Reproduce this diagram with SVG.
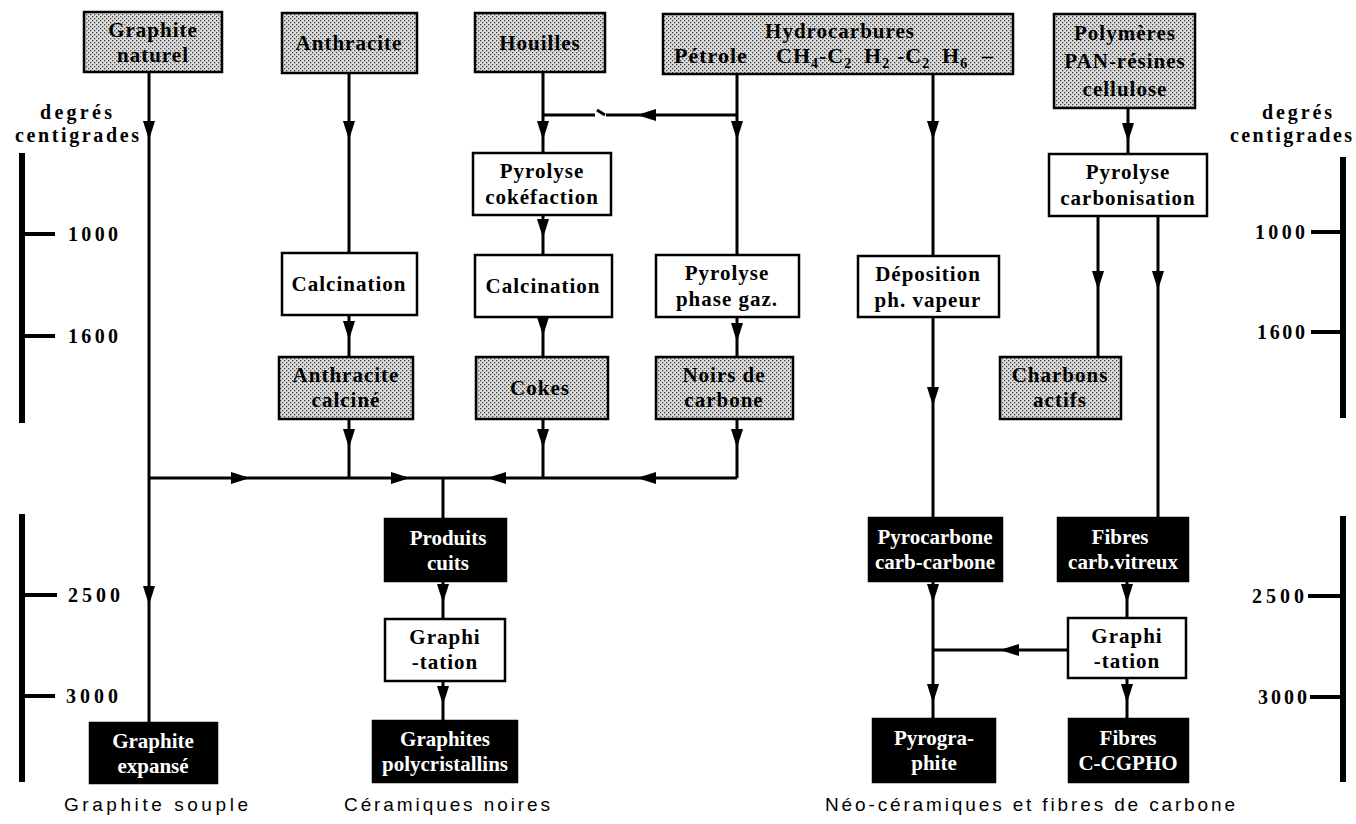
<svg xmlns="http://www.w3.org/2000/svg" xmlns:xlink="http://www.w3.org/1999/xlink" width="1356" height="824" viewBox="0 0 1356 824">
<style>
.box{stroke:#000;stroke-width:2.5}
.sh{fill:url(#dots)}
.wh{fill:#fff}
.bk{fill:#000}
.t{font-family:"Liberation Serif",serif;font-weight:bold;font-size:21px;text-anchor:middle;letter-spacing:1px;fill:#000}
.tb{font-family:"Liberation Serif",serif;font-weight:bold;font-size:21px;text-anchor:middle;fill:#fff}
.lab{font-family:"Liberation Serif",serif;font-weight:bold;font-size:20px;fill:#000}
.cap{font-family:"Liberation Sans",sans-serif;font-size:19px;fill:#000}
.c{fill:none;stroke:#000;stroke-width:3}
.bar{fill:#000}
.sub{font-size:14px}
</style>
<defs>
<pattern id="dots" width="4" height="4" patternUnits="userSpaceOnUse">
<rect width="4" height="4" fill="#dcdcdc"/>
<rect x="0" y="0" width="1.3" height="1.3" fill="#444"/>
<rect x="2" y="2" width="1.3" height="1.3" fill="#444"/>
</pattern>
<path id="ad" d="M0,0 L-6,-19 L6,-19 Z" fill="#000"/>
<path id="al" d="M0,0 L19,-6 L19,6 Z" fill="#000"/>
<path id="ar" d="M0,0 L-19,-6 L-19,6 Z" fill="#000"/>
</defs>
<rect width="1356" height="824" fill="#fff"/>

<g id="scales">
<rect class="bar" x="19" y="153" width="6" height="270"/>
<rect class="bar" x="22" y="232" width="33" height="4"/>
<rect class="bar" x="22" y="334" width="33" height="4"/>
<rect class="bar" x="19" y="514" width="6" height="268"/>
<rect class="bar" x="22" y="593" width="35" height="4"/>
<rect class="bar" x="22" y="694" width="33" height="4"/>
<rect class="bar" x="1340" y="157" width="6" height="261"/>
<rect class="bar" x="1311" y="230" width="32" height="4"/>
<rect class="bar" x="1311" y="330" width="32" height="4"/>
<rect class="bar" x="1340" y="516" width="6" height="266"/>
<rect class="bar" x="1308" y="594" width="35" height="4"/>
<rect class="bar" x="1310" y="695" width="33" height="4"/>
<text class="lab" x="68" y="241" textLength="50">1000</text>
<text class="lab" x="68" y="343" textLength="50">1600</text>
<text class="lab" x="68" y="602" textLength="52">2500</text>
<text class="lab" x="66" y="703" textLength="52">3000</text>
<text class="lab" x="1255" y="239" textLength="50">1000</text>
<text class="lab" x="1257" y="339" textLength="48">1600</text>
<text class="lab" x="1252" y="603" textLength="52">2500</text>
<text class="lab" x="1258" y="704" textLength="49">3000</text>
<text class="lab" x="40" y="119" textLength="72">degrés</text>
<text class="lab" x="15" y="142" textLength="124">centigrades</text>
<text class="lab" x="1262" y="119" textLength="70">degrés</text>
<text class="lab" x="1230" y="142" textLength="122">centigrades</text>
</g>

<g id="connectors">
<path class="c" d="M149,72 V723 M149,478 H737"/>
<path class="c" d="M349,73 V253 M349,315 V357 M349,419 V478"/>
<path class="c" d="M543,72 V153 M543,215 V255 M543,317 V357 M543,419 V478"/>
<path class="c" d="M737,74 V255 M737,317 V357 M737,419 V478"/>
<path class="c" d="M737,115 H606 M605,115 L597,110 M595,115 H543"/>
<path class="c" d="M443,478 V519 M443,581 V619 M443,681 V721"/>
<path class="c" d="M933,74 V256 M933,317 V518 M933,581 V719 M1068,650 H933"/>
<path class="c" d="M1128,108 V154 M1098,216 V357 M1158,216 V518 M1127,581 V618 M1127,678 V719"/>
<use xlink:href="#ad" x="149" y="140"/>
<use xlink:href="#ad" x="149" y="605"/>
<use xlink:href="#ad" x="349" y="140"/>
<use xlink:href="#ad" x="349" y="340"/>
<use xlink:href="#ad" x="349" y="448"/>
<use xlink:href="#ad" x="543" y="140"/>
<use xlink:href="#ad" x="543" y="238"/>
<use xlink:href="#ad" x="543" y="336"/>
<use xlink:href="#ad" x="543" y="448"/>
<use xlink:href="#ad" x="737" y="140"/>
<use xlink:href="#ad" x="737" y="342"/>
<use xlink:href="#ad" x="737" y="448"/>
<use xlink:href="#ad" x="933" y="140"/>
<use xlink:href="#ad" x="933" y="406"/>
<use xlink:href="#ad" x="933" y="603"/>
<use xlink:href="#ad" x="933" y="703"/>
<use xlink:href="#ad" x="1128" y="142"/>
<use xlink:href="#ad" x="1098" y="290"/>
<use xlink:href="#ad" x="1158" y="290"/>
<use xlink:href="#ad" x="1127" y="603"/>
<use xlink:href="#ad" x="1127" y="703"/>
<use xlink:href="#ad" x="443" y="603"/>
<use xlink:href="#ad" x="443" y="705"/>
<use xlink:href="#ar" x="250" y="478"/>
<use xlink:href="#ar" x="410" y="478"/>
<use xlink:href="#al" x="487" y="478"/>
<use xlink:href="#al" x="637" y="478"/>
<use xlink:href="#al" x="637" y="115"/>
<use xlink:href="#al" x="1000" y="650"/>
</g>

<g id="graphite-naturel"><rect class="box sh" x="84" y="12" width="138" height="60"/><text class="t" x="153" y="37">Graphite</text><text class="t" x="153" y="62">naturel</text></g>
<g id="anthracite"><rect class="box sh" x="282" y="13" width="135" height="60"/><text class="t" x="349" y="50">Anthracite</text></g>
<g id="houilles"><rect class="box sh" x="475" y="13" width="130" height="59"/><text class="t" x="540" y="50">Houilles</text></g>
<g id="hydrocarbures"><rect class="box sh" x="663" y="14" width="350" height="60"/><text class="t" x="840" y="38">Hydrocarbures</text><text class="t" y="63" style="text-anchor:start;font-size:22px"><tspan x="674">Pétrole</tspan><tspan x="776">CH</tspan><tspan class="sub" dy="5">4</tspan><tspan dy="-5">-C</tspan><tspan class="sub" dy="5">2</tspan><tspan x="864" dy="-5">H</tspan><tspan class="sub" dy="5">2</tspan><tspan x="897" dy="-5">-C</tspan><tspan class="sub" dy="5">2</tspan><tspan x="942" dy="-5">H</tspan><tspan class="sub" dy="5">6</tspan><tspan x="982" dy="-5">–</tspan></text></g>
<g id="polymeres"><rect class="box sh" x="1054" y="14" width="141" height="94"/><text class="t" x="1125" y="40">Polymères</text><text class="t" x="1125" y="68">PAN-résines</text><text class="t" x="1125" y="96">cellulose</text></g>
<g id="pyrolyse-cokefaction"><rect class="box wh" x="473" y="153" width="138" height="62"/><text class="t" x="542" y="178">Pyrolyse</text><text class="t" x="542" y="204">cokéfaction</text></g>
<g id="pyrolyse-carbonisation"><rect class="box wh" x="1049" y="154" width="158" height="62"/><text class="t" x="1128" y="179">Pyrolyse</text><text class="t" x="1128" y="205">carbonisation</text></g>
<g id="calcination-1"><rect class="box wh" x="282" y="253" width="135" height="62"/><text class="t" x="349" y="291">Calcination</text></g>
<g id="calcination-2"><rect class="box wh" x="475" y="255" width="137" height="62"/><text class="t" x="543" y="293">Calcination</text></g>
<g id="pyrolyse-phase-gaz"><rect class="box wh" x="656" y="255" width="143" height="62"/><text class="t" x="727" y="280">Pyrolyse</text><text class="t" x="727" y="306">phase gaz.</text></g>
<g id="deposition"><rect class="box wh" x="858" y="256" width="141" height="61"/><text class="t" x="928" y="281">Déposition</text><text class="t" x="928" y="307">ph. vapeur</text></g>
<g id="anthracite-calcine"><rect class="box sh" x="279" y="357" width="134" height="62"/><text class="t" x="346" y="382">Anthracite</text><text class="t" x="346" y="407">calciné</text></g>
<g id="cokes"><rect class="box sh" x="476" y="357" width="132" height="62"/><text class="t" x="540" y="395">Cokes</text></g>
<g id="noirs-de-carbone"><rect class="box sh" x="656" y="357" width="137" height="62"/><text class="t" x="724" y="382">Noirs de</text><text class="t" x="724" y="407">carbone</text></g>
<g id="charbons-actifs"><rect class="box sh" x="1000" y="357" width="121" height="62"/><text class="t" x="1060" y="382">Charbons</text><text class="t" x="1060" y="407">actifs</text></g>
<g id="produits-cuits"><rect class="box bk" x="385" y="519" width="121" height="62"/><text class="tb" x="448" y="545">Produits</text><text class="tb" x="448" y="570">cuits</text></g>
<g id="graphitation-1"><rect class="box wh" x="385" y="619" width="120" height="62"/><text class="t" x="445" y="644">Graphi</text><text class="t" x="445" y="669">-tation</text></g>
<g id="graphites-polycristallins"><rect class="box bk" x="373" y="721" width="144" height="61"/><text class="tb" x="445" y="746">Graphites</text><text class="tb" x="445" y="771">polycristallins</text></g>
<g id="graphite-expanse"><rect class="box bk" x="90" y="723" width="127" height="60"/><text class="tb" x="153" y="748">Graphite</text><text class="tb" x="153" y="773">expansé</text></g>
<g id="pyrocarbone"><rect class="box bk" x="869" y="518" width="133" height="63"/><text class="tb" x="935" y="544">Pyrocarbone</text><text class="tb" x="935" y="569">carb-carbone</text></g>
<g id="fibres-carb-vitreux"><rect class="box bk" x="1058" y="518" width="130" height="63"/><text class="tb" x="1120" y="544">Fibres</text><text class="tb" x="1123" y="569">carb.vitreux</text></g>
<g id="graphitation-2"><rect class="box wh" x="1068" y="618" width="118" height="60"/><text class="t" x="1127" y="643">Graphi</text><text class="t" x="1127" y="668">-tation</text></g>
<g id="pyrographite"><rect class="box bk" x="873" y="719" width="122" height="63"/><text class="tb" x="934" y="745">Pyrogra-</text><text class="tb" x="934" y="770">phite</text></g>
<g id="fibres-ccgpho"><rect class="box bk" x="1069" y="719" width="119" height="63"/><text class="tb" x="1128" y="745">Fibres</text><text class="tb" x="1128" y="770">C-CGPHO</text></g>

<g id="captions">
<text class="cap" x="64" y="811" textLength="184">Graphite souple</text>
<text class="cap" x="344" y="811" textLength="206">Céramiques noires</text>
<text class="cap" x="825" y="811" textLength="410">Néo-céramiques et fibres de carbone</text>
</g>
</svg>
